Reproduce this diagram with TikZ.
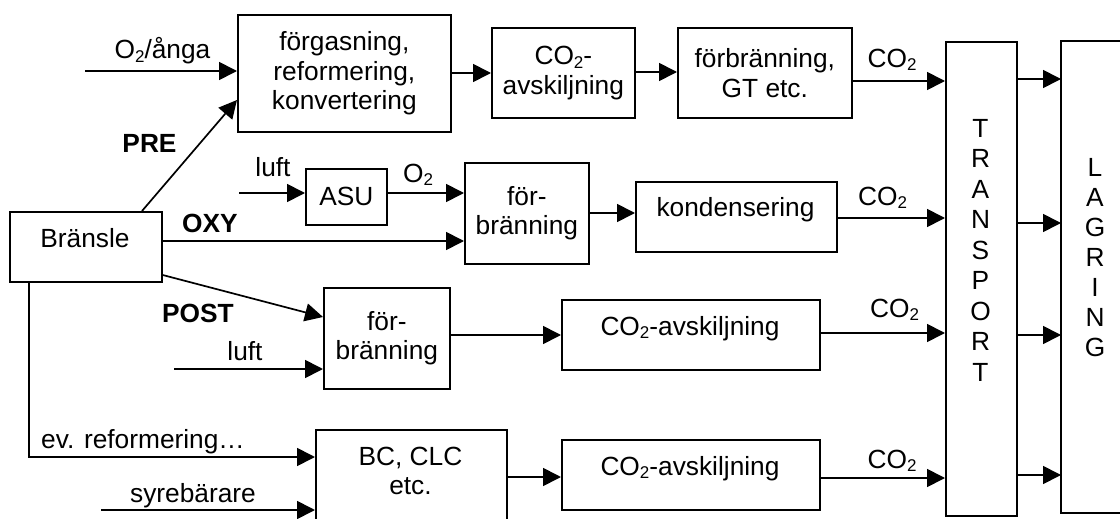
\documentclass[tikz,border=0pt]{standalone}
\usepackage{fontspec}
\setmainfont{Liberation Sans}
\usetikzlibrary{arrows.meta}
\newcommand{\subtwo}{\raisebox{-3.5pt}{\fontsize{17}{17}\selectfont 2}}
\begin{document}
\begin{tikzpicture}[x=1pt,y=-1pt,
  every node/.style={font=\fontsize{26.3}{29.5}\selectfont, inner sep=0pt},
  box/.style={draw, line width=1.7pt, anchor=north west, align=center},
  lbl/.style={anchor=base},
  arr/.style={line width=1.7pt, -{Triangle[length=18pt,width=18pt]}}]
\useasboundingbox (0,0) rectangle (1120,519);
\clip (0,0) rectangle (1120,519);

% boxes
\node[box, minimum width=213pt, minimum height=117pt] (forg) at (237,14) {förgasning,\\reformering,\\konvertering};
\node[box, minimum width=143pt, minimum height=90pt] (avsk1) at (491,27) {CO\subtwo-\\avskiljning};
\node[box, minimum width=174pt, minimum height=90pt] (fbGT) at (677,27) {förbränning,\\GT etc.};
\node[box, minimum width=71pt, minimum height=474pt] (transport) at (945,41) {};
\node[box, draw=none, minimum width=120pt, minimum height=470pt] (lagring) at (1061,41) {};
\draw[line width=1.7pt] (lagring.north east) -- (lagring.north west) -- (lagring.south west) -- (lagring.south east);
\node[box, minimum width=152pt, minimum height=70pt] (bransle) at (9,211) {};
\node[box, minimum width=81pt, minimum height=56pt] (asu) at (305,168) {ASU};
\node[box, minimum width=124pt, minimum height=101pt] (fb1) at (464,162) {för-\\bränning};
\node[box, minimum width=201pt, minimum height=70pt] (kond) at (635,181) {};
\node[box, minimum width=126pt, minimum height=101pt] (fb2) at (323,287) {för-\\bränning};
\node[box, minimum width=258pt, minimum height=70pt] (avsk2) at (561,299) {};
\node[box, minimum width=191pt, minimum height=120pt] (bc) at (315,429) {};
\node[box, minimum width=258pt, minimum height=70pt] (avsk3) at (561,439) {};

% texts placed inside boxes
\node[lbl] (bransle-t) at (85,247) {Bränsle};
\node[lbl] (kond-t) at (735.5,216) {kondensering};
\node[lbl] (avsk2-t) at (690,335) {CO\subtwo-avskiljning};
\node[lbl] (avsk3-t) at (690,475) {CO\subtwo-avskiljning};
\node[align=center] (bc-t) at (410.5,471) {BC, CLC\\etc.};
\node[align=center, font=\fontsize{26.3}{30.5}\selectfont] (transport-t) at (980.5,250) {T\\R\\A\\N\\S\\P\\O\\R\\T};
\node[align=center, font=\fontsize{26.3}{30}\selectfont] (lagring-t) at (1095,258) {L\\A\\G\\R\\I\\N\\G};

% free ends
\coordinate (o2in) at (85,71);
\coordinate (luftA) at (239,193);
\coordinate (luftB) at (174,369);
\coordinate (syre) at (101,510);

% connectors
\draw[arr] (o2in) -- (forg.west |- o2in);
\draw[arr] (bransle.north -| 142,0) -- (forg.west |- 0,100);
\draw[arr] (forg.east |- 0,73) -- (avsk1.west |- 0,73);
\draw[arr] (avsk1.east |- 0,72) -- (fbGT.west |- 0,72);
\draw[arr] (fbGT.east |- 0,81) -- (transport.west |- 0,81);

\draw[arr] (luftA) -- (asu.west |- luftA);
\draw[arr] (asu.east |- 0,193) -- (fb1.west |- 0,193);
\draw[arr] (bransle.east |- 0,241) -- (fb1.west |- 0,241);
\draw[arr] (fb1.east |- 0,213) -- (kond.west |- 0,213);
\draw[arr] (kond.east |- 0,218) -- (transport.west |- 0,218);

\draw[arr] (bransle.east |- 0,275) -- (fb2.west |- 0,317);
\draw[arr] (luftB) -- (fb2.west |- luftB);
\draw[arr] (fb2.east |- 0,335) -- (avsk2.west |- 0,335);
\draw[arr] (avsk2.east |- 0,333) -- (transport.west |- 0,333);

\draw[arr] (bransle.south -| 29,0) |- (bc.west |- 0,457);
\draw[arr] (syre) -- (bc.west |- syre);
\draw[arr] (bc.east |- 0,477) -- (avsk3.west |- 0,477);
\draw[arr] (avsk3.east |- 0,478) -- (transport.west |- 0,478);

\draw[arr] (transport.east |- 0,79) -- (lagring.west |- 0,79);
\draw[arr] (transport.east |- 0,223) -- (lagring.west |- 0,223);
\draw[arr] (transport.east |- 0,335) -- (lagring.west |- 0,335);
\draw[arr] (transport.east |- 0,475) -- (lagring.west |- 0,475);

% labels
\node[lbl] (l-o2a) at (162.5,59) {O\subtwo/ånga};
\node[lbl] (l-pre) at (149.5,152) {\textbf{PRE}};
\node[lbl] (l-luft1) at (273,176) {luft};
\node[lbl] (l-o2b) at (418,182) {O\subtwo};
\node[lbl] (l-oxy) at (210,232) {\textbf{OXY}};
\node[lbl] (l-post) at (198,322) {\textbf{POST}};
\node[lbl] (l-luft2) at (245,360) {luft};
\node[lbl] (l-ev) at (143,448) {ev. reformering…};
\node[lbl] (l-syre) at (193,502) {syrebärare};
\node[lbl] (l-co2a) at (892,67) {CO\subtwo};
\node[lbl] (l-co2b) at (882.5,205) {CO\subtwo};
\node[lbl] (l-co2c) at (894.5,317) {CO\subtwo};
\node[lbl] (l-co2d) at (892,468) {CO\subtwo};
\end{tikzpicture}
\end{document}
